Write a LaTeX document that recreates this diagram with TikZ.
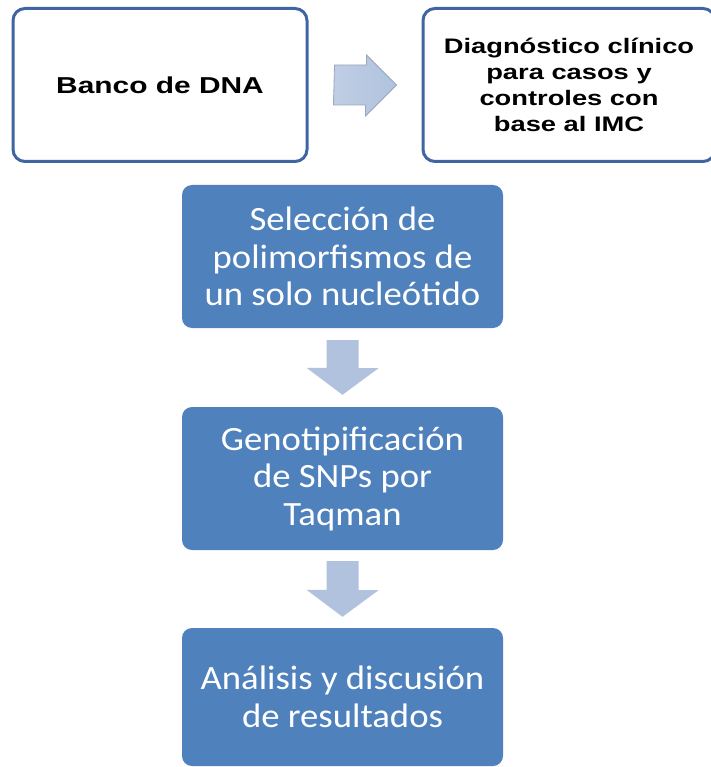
\documentclass[tikz,border=0pt]{standalone}
\usepackage{fontspec}
\usetikzlibrary{calc}

\newfontfamily\arialancha[FakeStretch=1.3]{Liberation Sans}
\newfontfamily\calibriancha[FakeStretch=1.08]{Carlito}

\definecolor{azulborde}{HTML}{4065A3}
\definecolor{azulcaja}{HTML}{4F81BD}
\definecolor{azulflecha}{HTML}{B0C2DE}
\definecolor{grisflecha}{HTML}{9AA6BC}

\tikzset{
  cajablanca/.style={draw=azulborde, line width=3pt, rounded corners=12pt,
    fill=white, minimum height=153pt, align=center,
    font=\arialancha\bfseries\fontsize{21}{26}\selectfont},
  cajaazul/.style={fill=azulcaja, rounded corners=10pt, minimum width=321pt,
    text=white, align=center,
    font=\calibriancha\fontsize{34}{37.5}\selectfont},
  flecha/.style={fill=azulflecha, draw=none},
  flechader/.style={draw=grisflecha, line width=0.8pt, left color=azulflecha!80!white, right color=azulflecha}
}

\begin{document}
\begin{tikzpicture}[x=1pt, y=-1pt]

    \useasboundingbox (0,0) rectangle (710,767);

    % Arriba
    \node[cajablanca, minimum width=294pt,
      font=\arialancha\bfseries\fontsize{23}{28}\selectfont] (banco) at (160,85) {Banco de DNA};
    \node[cajablanca, minimum width=292pt] (diag) at (569,85)
      {Diagnóstico clínico\\para casos y\\controles con\\base al IMC};

    \draw[flechader] ($(banco.east)+(26,-20)$) -- ++(32,0) -- ++(0,-10)
      -- ($(diag.west)+(-25,0)$) -- ++(-31,31) -- ++(0,-11) -- ++(-32,0) -- cycle;

    % Pasos
    \node[cajaazul, minimum height=143pt] (selec) at (342.5,256.5)
      {Selección de\\polimorfismos de\\un solo nucleótido};
    \node[cajaazul, minimum height=143pt] (genot) at (342.5,478.5)
      {Genotipificación\\de SNPs por\\Taqman};
    \node[cajaazul, minimum height=138pt] (analisis) at (342.5,697)
      {Análisis y discusión\\de resultados};

    % Flechas
    \draw[flecha] ($(selec.south)+(-16,12)$) -- ++(32,0) -- ++(0,28) -- ++(20,0)
      -- ($(genot.north)+(0,-12)$) -- ++(-36,-27) -- ++(20,0) -- cycle;
    \draw[flecha] ($(genot.south)+(-16,11)$) -- ++(32,0) -- ++(0,29) -- ++(20,0)
      -- ($(analisis.north)+(0,-11)$) -- ++(-36,-27) -- ++(20,0) -- cycle;

\end{tikzpicture}
\end{document}
